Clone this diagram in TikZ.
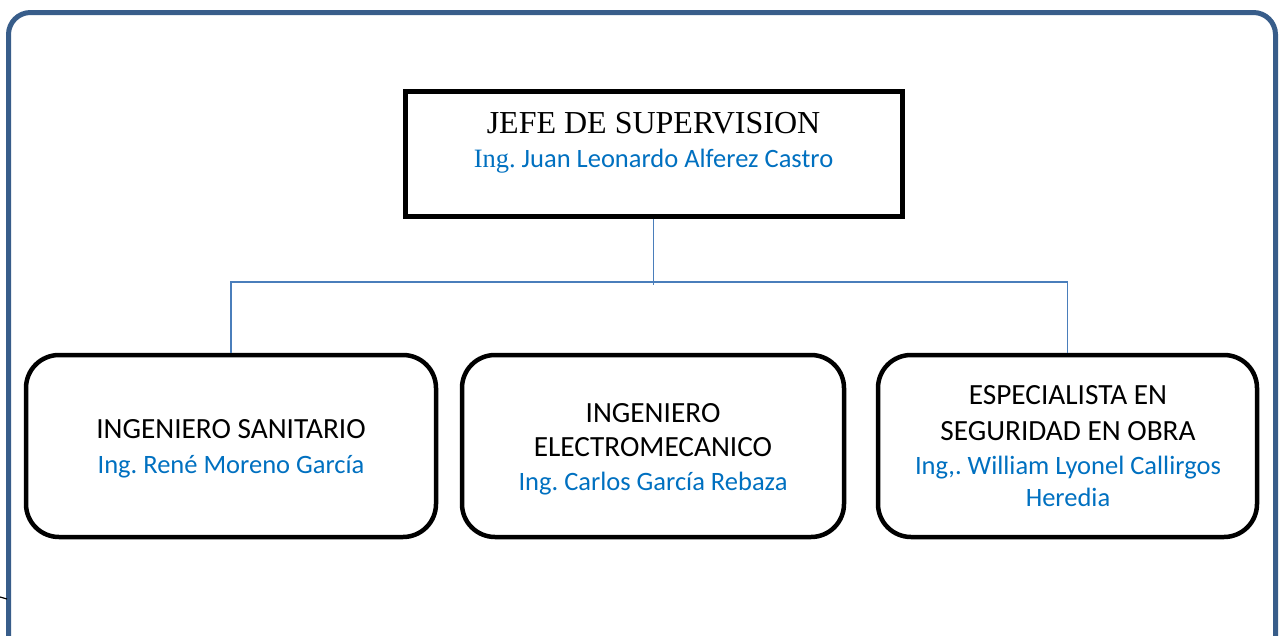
\documentclass[tikz,border=0pt]{standalone}
\usepackage{fontspec}
\setmainfont{Carlito}
\newfontfamily\timesf{Liberation Serif}
\definecolor{framec}{HTML}{385D8A}
\definecolor{connc}{HTML}{4A7EBB}
\definecolor{namec}{HTML}{0070C0}
\tikzset{
  frame/.style={draw=framec, line width=5pt, rounded corners=22pt},
  topbox/.style={draw=black, line width=5pt, minimum width=497pt, minimum height=125pt, inner sep=0pt},
  rbox/.style={draw=black, line width=4.5pt, rounded corners=33pt, minimum height=182pt, inner sep=0pt},
  conn/.style={draw=connc, line width=1.8pt},
  roletxt/.style={anchor=base, inner sep=0pt, font=\fontsize{29.3pt}{35pt}\selectfont},
  nametxt/.style={anchor=base, inner sep=0pt, text=namec, font=\fontsize{26.5pt}{33pt}\selectfont},
  titletxt/.style={anchor=base, inner sep=0pt, font=\timesf\fontsize{32pt}{36pt}\selectfont},
}
\frenchspacing
\begin{document}
\begin{tikzpicture}[x=1pt,y=-1pt]
\useasboundingbox (0,0) rectangle (1283,635);
\begin{scope}
\clip (0,0) rectangle (1283,635);
\draw[frame] (8.5,12.5) rectangle (1275.5,665);
\end{scope}
\draw[black, line width=1.2pt] (0,597) -- (7,599);

% top box
\node[topbox] (jefe) at (653.5,153.5) {};
\node[titletxt] (jt1) at (653.5,133) {JEFE DE SUPERVISION};
\node[nametxt] (jt2) at (653.5,167) {{\timesf Ing.} Juan Leonardo Alferez Castro};

% lower boxes
\node[rbox, minimum width=410pt] (san) at (231,446) {};
\node[rbox, minimum width=382pt] (ele) at (653,446) {};
\node[rbox, minimum width=379pt] (seg) at (1067.5,446) {};

\node[roletxt] (s1) at (231,438) {INGENIERO SANITARIO};
\node[nametxt] (s2) at (231,473) {Ing. René Moreno García};

\node[roletxt] (e1) at (653,422) {INGENIERO};
\node[roletxt] (e2) at (653,456.5) {ELECTROMECANICO};
\node[nametxt] (e3) at (653,490.5) {Ing. Carlos García Rebaza};

\node[roletxt] (g1) at (1068,404.5) {ESPECIALISTA EN};
\node[roletxt] (g2) at (1068,440) {SEGURIDAD EN OBRA};
\node[nametxt] (g3) at (1068,474) {Ing,. William Lyonel Callirgos};
\node[nametxt] (g4) at (1068,506) {Heredia};

% connectors
\coordinate (hub) at (653.5,282);
\draw[conn] (jefe.south) -- ([yshift=-3pt]hub);
\draw[conn] (san.north) |- (hub) -| (seg.north);
\end{tikzpicture}
\end{document}
